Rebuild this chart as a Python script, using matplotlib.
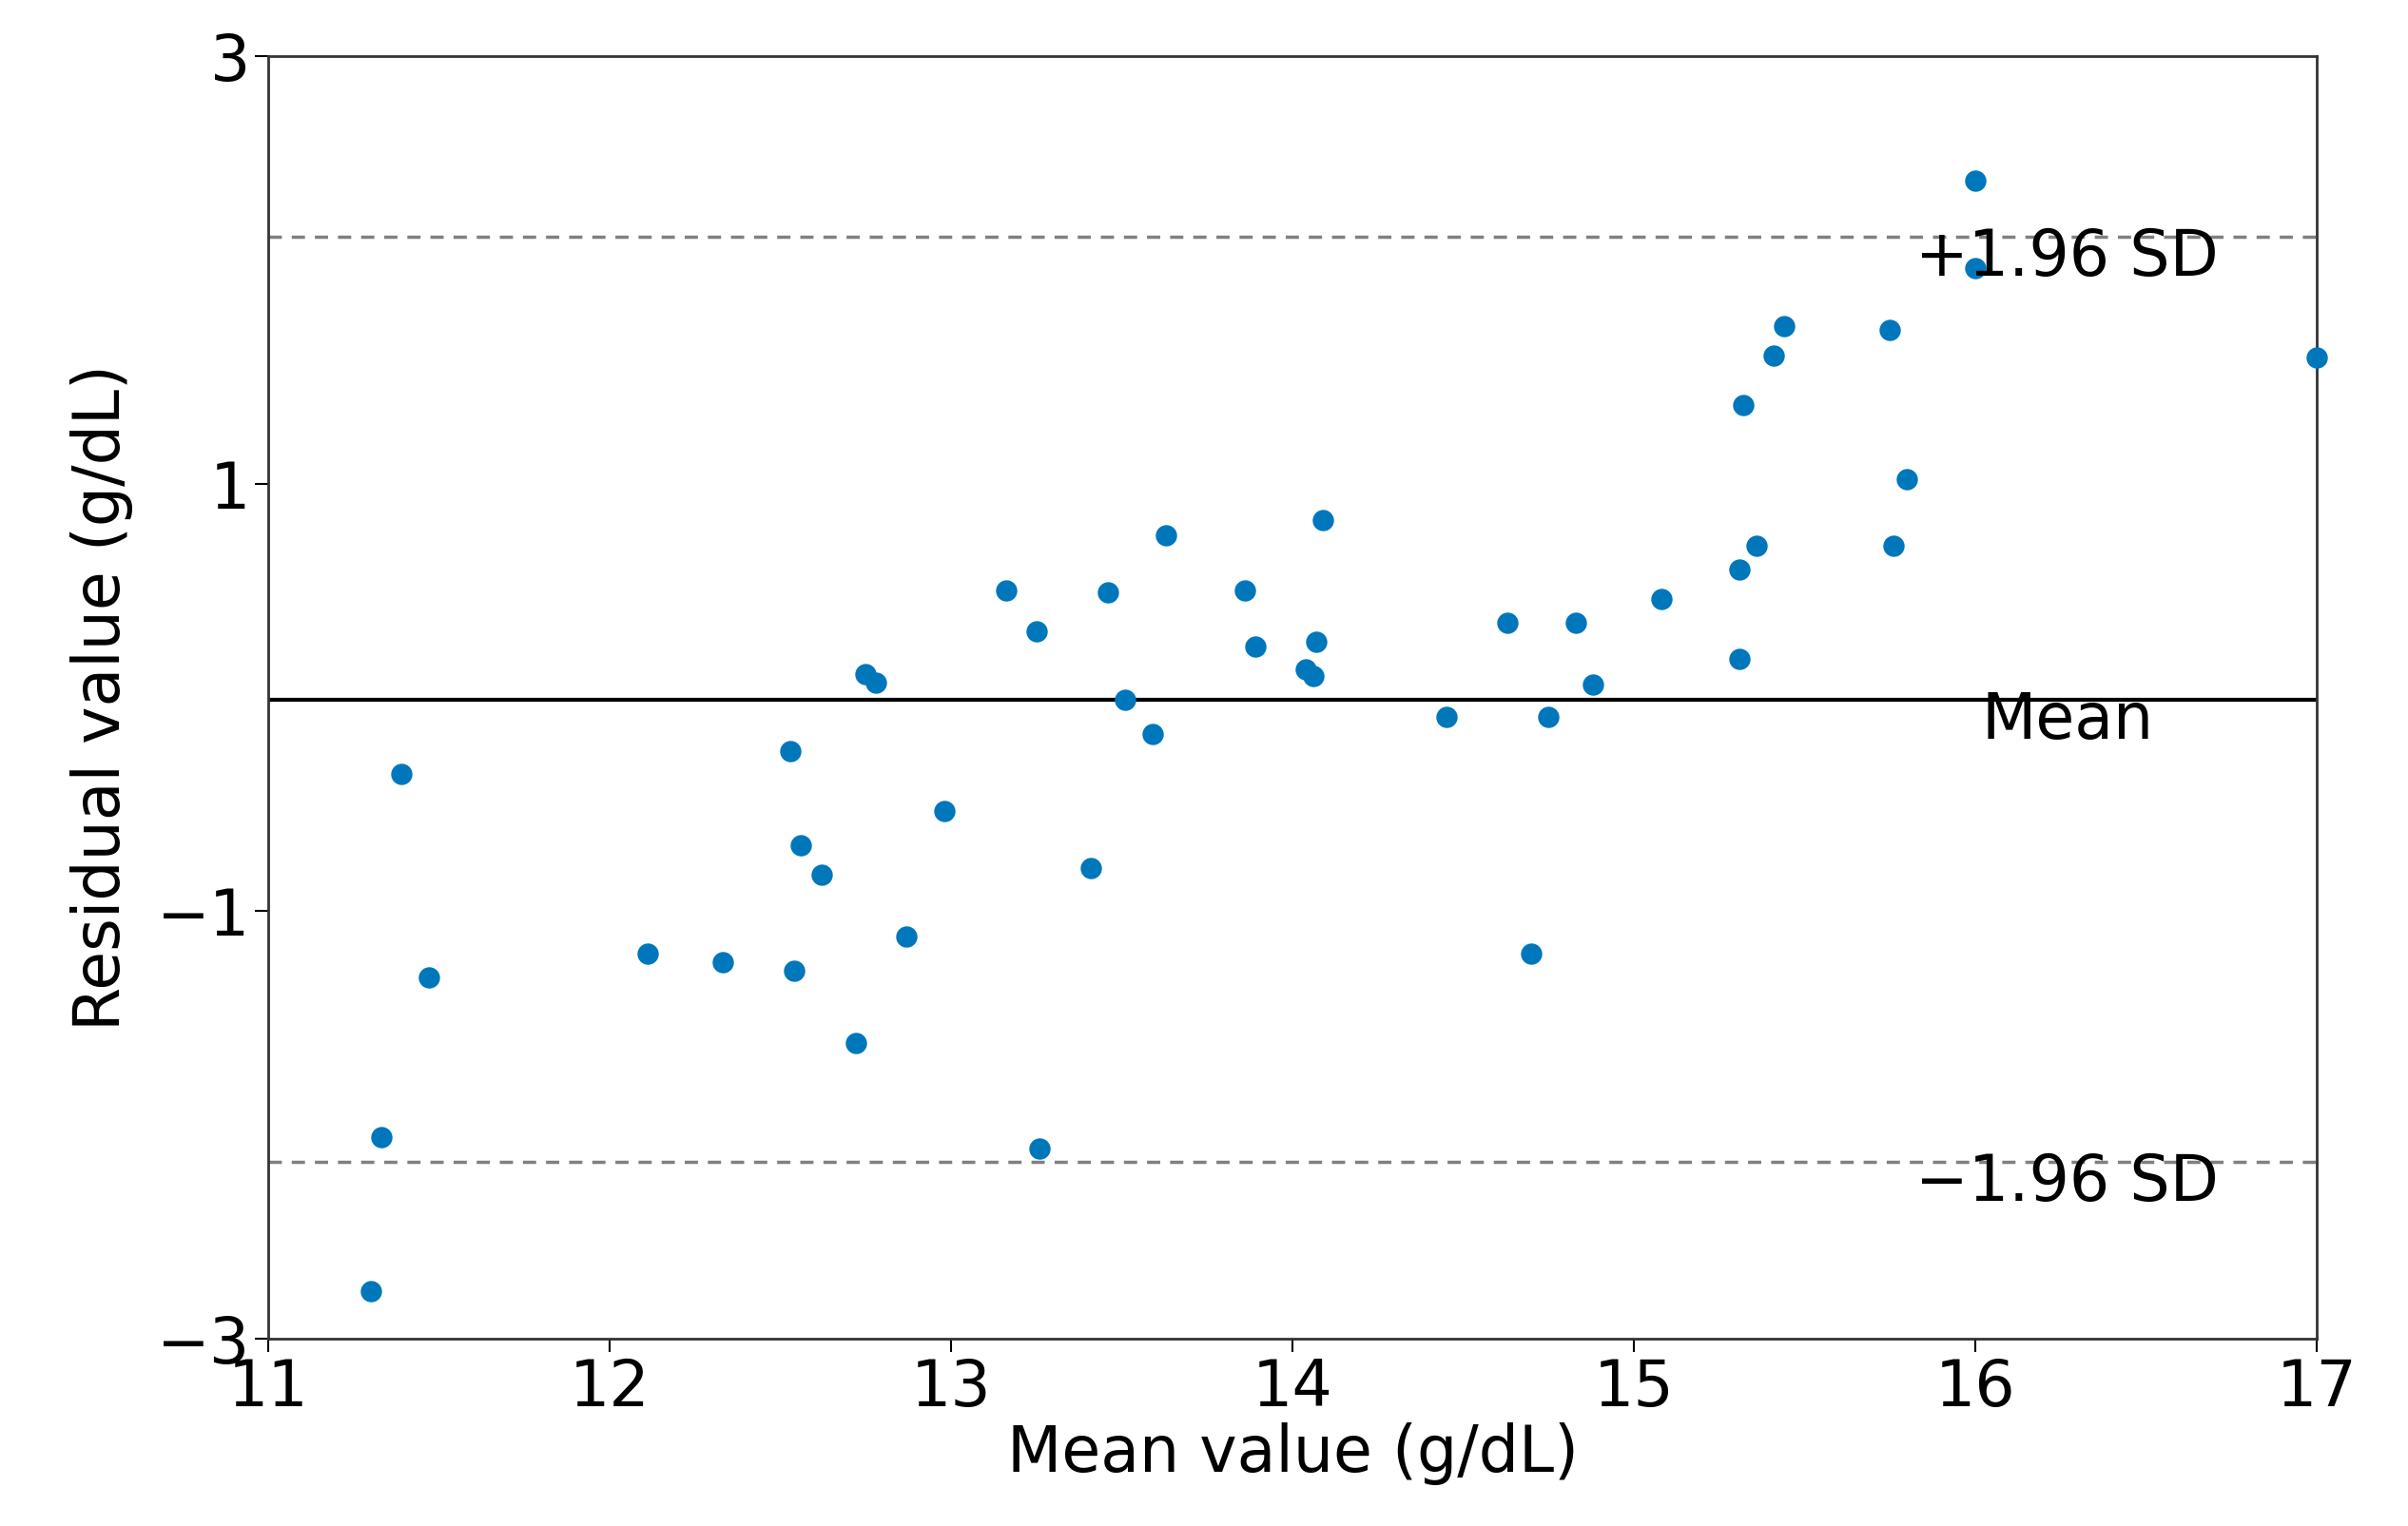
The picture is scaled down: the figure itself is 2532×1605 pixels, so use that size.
import matplotlib
matplotlib.use("Agg")
import matplotlib.pyplot as plt

# Bland-Altman style residual plot
mean_values = [
    11.30, 11.33, 11.39, 11.47, 12.11, 12.33, 12.53, 12.54, 12.56, 12.62,
    12.72, 12.75, 12.78, 12.87, 12.98, 13.16, 13.25, 13.26, 13.41, 13.46,
    13.51, 13.59, 13.63, 13.86, 13.89, 14.04, 14.06, 14.07, 14.09, 14.45,
    14.63, 14.70, 14.75, 14.83, 14.88, 15.08, 15.31, 15.31, 15.32, 15.36,
    15.41, 15.44, 15.75, 15.76, 15.80, 16.00, 16.00, 17.00,
]
residuals = [
    -2.78, -2.06, -0.36, -1.31, -1.20, -1.24, -0.25, -1.28, -0.69, -0.83,
    -1.62, 0.11, 0.07, -1.12, -0.53, 0.50, 0.31, -2.11, -0.80, 0.49,
    -0.01, -0.17, 0.76, 0.50, 0.24, 0.13, 0.10, 0.26, 0.83, -0.09,
    0.35, -1.20, -0.09, 0.35, 0.06, 0.46, 0.60, 0.18, 1.37, 0.71,
    1.60, 1.74, 1.72, 0.71, 1.02, 2.42, 2.01, 1.59,
]

mean_diff = -0.01
upper_loa = 2.157
lower_loa = -2.173

x_ticks = [11, 12, 13, 14, 15, 16, 17]
y_ticks = [-3, -1, 1, 3]

plt.rcParams["font.family"] = ["DejaVu Sans"]
fs = 48

fig, ax = plt.subplots(figsize=(25.32, 16.05), dpi=100)
fig.subplots_adjust(left=0.1115, right=0.962, top=0.963, bottom=0.123)

ax.scatter(mean_values, residuals, s=260, color="#0077bb", zorder=3,
           clip_on=False, linewidths=0)

ax.axhline(mean_diff, color="black", linewidth=3)
ax.axhline(upper_loa, color="gray", linestyle="--", linewidth=2.5,
           dashes=(4, 3))
ax.axhline(lower_loa, color="gray", linestyle="--", linewidth=2.5,
           dashes=(4, 3))

ax.text(16.27, upper_loa - 0.1, "+1.96 SD", ha="center", va="center",
        fontsize=fs)
ax.text(16.27, mean_diff - 0.1, "Mean", ha="center", va="center",
        fontsize=fs)
ax.text(16.27, lower_loa - 0.1, "\u22121.96 SD", ha="center", va="center",
        fontsize=fs)

ax.set_xlim(11, 17)
ax.set_ylim(-3, 3)
ax.set_xticks(x_ticks)
ax.set_yticks(y_ticks)
ax.tick_params(labelsize=fs, length=10, width=1.5, pad=4)
for spine in ax.spines.values():
    spine.set_linewidth(2)
    spine.set_color("#333333")

ax.set_xlabel("Mean value (g/dL)", fontsize=fs, labelpad=2)
ax.set_ylabel("Residual value (g/dL)", fontsize=fs, labelpad=18)

fig.savefig("out.png", dpi=100)
